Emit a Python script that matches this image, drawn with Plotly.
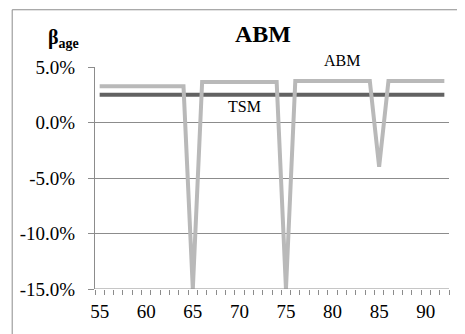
import plotly.graph_objects as go

ages = list(range(55, 93))
abm_pct = ([3.26] * 10 + [-15.0] + [3.65] * 9 + [-15.0] + [3.74] * 9 + [-4.0] + [3.74] * 7)
tsm_pct = [2.5] * len(ages)
abm = [v / 100 for v in abm_pct]
tsm = [v / 100 for v in tsm_pct]

y_ticks = [-0.15, -0.10, -0.05, 0.0, 0.05]
y_labels = ["-15.0%", "-10.0%", "-5.0%", "0.0%", "5.0%"]
x_ticks = [55, 60, 65, 70, 75, 80, 85, 90]

font = "Liberation Serif"
grey = "#8c8c8c"

# figure is rendered with an 8px page offset, so size/margins compensate
W, H = 457, 326
L, R, T, B = 84, 16, 59, 44
pw = W - L - R
ph = H - T - B


def px(fx):
    return (fx - L) / pw


def py(fy):
    return (H - B - fy) / ph


fig = go.Figure()
fig.add_trace(go.Scatter(x=ages, y=tsm, mode="lines", name="TSM",
                         line=dict(color="#626262", width=4)))
fig.add_trace(go.Scatter(x=ages, y=abm, mode="lines", name="ABM",
                         line=dict(color="#b9b9b9", width=4)))

fig.update_layout(
    width=W, height=H,
    margin=dict(l=L, r=R, t=T, b=B),
    paper_bgcolor="white", plot_bgcolor="white",
    showlegend=False,
    font=dict(family=font, color="black", size=19),
    title=dict(text="<b>ABM</b>", x=255 / W, xanchor="center", y=1 - 26 / H, yanchor="middle",
               font=dict(family=font, size=24, color="black")),
    xaxis=dict(range=[54.5, 92.5], tickvals=x_ticks, ticktext=[str(v) for v in x_ticks],
               ticks="", showgrid=False, zeroline=False, showline=False,
               tickfont=dict(family=font, size=19, color="black"), ticklabelstandoff=9,
               minor=dict(tick0=54.5, dtick=1, ticks="outside", ticklen=5,
                          tickcolor=grey, showgrid=False)),
    yaxis=dict(range=[-0.15, 0.05], tickvals=y_ticks, ticktext=y_labels,
               ticks="outside", ticklen=6, tickcolor=grey,
               showgrid=True, gridcolor=grey, gridwidth=1,
               zeroline=False, showline=True, linecolor=grey, linewidth=1,
               tickfont=dict(family=font, size=19, color="black"), ticklabelstandoff=9),
    annotations=[
        dict(text="<b>β<sub>age</sub></b>", x=px(52), y=py(30), xref="paper", yref="paper",
             xanchor="center", yanchor="middle", showarrow=False,
             font=dict(size=20, family=font, color="black")),
        dict(text="ABM", x=px(333), y=py(52), xref="paper", yref="paper",
             xanchor="center", yanchor="middle", showarrow=False,
             font=dict(size=16, family=font, color="black")),
        dict(text="TSM", x=px(235), y=py(99), xref="paper", yref="paper",
             xanchor="center", yanchor="middle", showarrow=False,
             font=dict(size=16, family=font, color="black")),
    ],
)

# chart border (left and top visible)
fig.add_shape(type="rect", xref="paper", yref="paper",
              x0=px(0.5), x1=px(W + 20), y0=py(H + 20), y1=py(1.5),
              line=dict(color=grey, width=1), layer="below")
# bottom axis line
fig.add_shape(type="line", xref="paper", yref="y", x0=0, x1=1, y0=-0.15, y1=-0.15,
              line=dict(color=grey, width=1))

fig.write_html("out.html")
